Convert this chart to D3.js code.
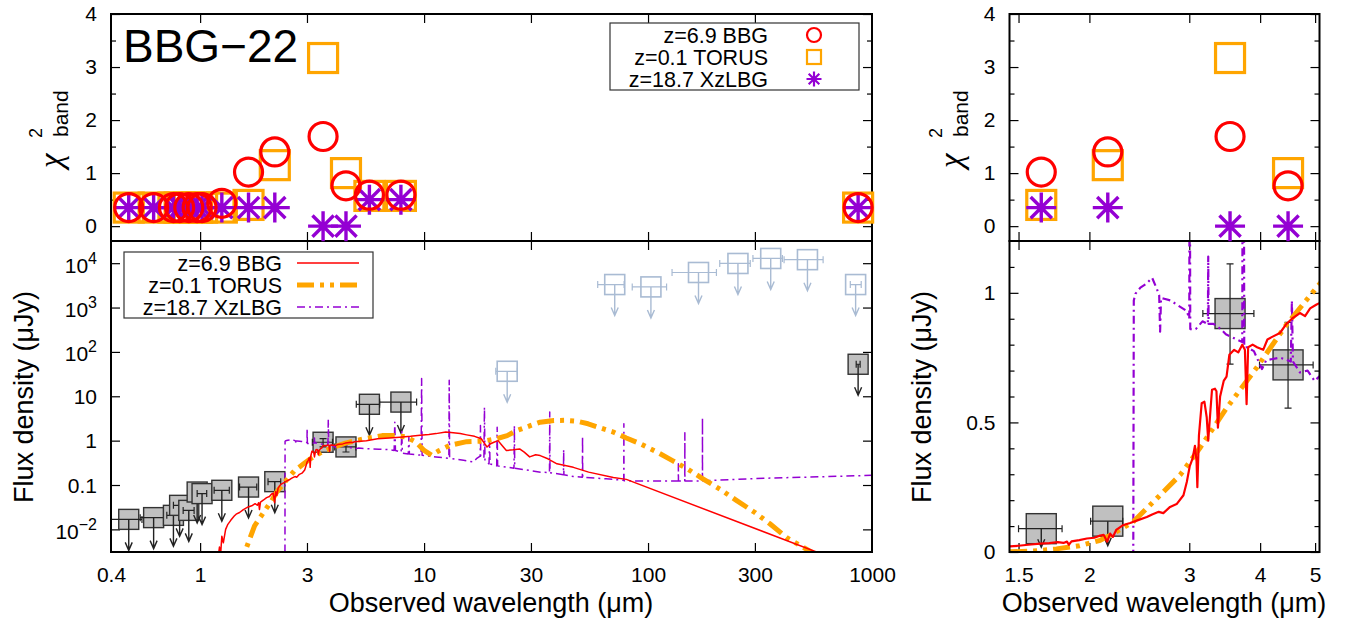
<!DOCTYPE html>
<html><head><meta charset="utf-8">
<script src="https://cdn.jsdelivr.net/npm/d3@7"></script>
<style>body{margin:0;background:#fff;overflow:hidden}</style>
</head><body>
<script>
// ---------------- DATA ----------------
const chiLam    = [0.48,0.62,0.76,0.81,0.89,0.97,1.02,1.25,1.645,2.155,3.54,4.48,5.7,7.88,867];
const chiBBG    = [0.35,0.35,0.35,0.35,0.35,0.35,0.35,0.43,1.02,1.40,1.69,0.76,0.585,0.585,0.35];
const chiTORUS  = [0.35,0.35,0.35,0.35,0.35,0.35,0.35,0.35,0.40,1.15,3.17,1.00,0.57,0.57,0.35];
const chiXzLBG  = [0.35,0.35,0.35,0.35,0.35,0.35,0.35,0.35,0.35,0.35,0.0,0.0,0.50,0.50,0.35];

const photLam   = [0.48,0.62,0.76,0.81,0.89,0.97,1.02,1.25,1.645,2.155,3.54,4.48,5.7,7.88,23.5,71,103,168,252,353,515,845,867];
const photLamLo = [0.40,0.54,0.71,0.76,0.84,0.925,0.97,1.155,1.50,2.01,3.17,3.99,4.98,6.33,20.9,59.6,85,128,209,294,405,800,850];
const photLamHi = [0.55,0.70,0.81,0.86,0.94,1.02,1.07,1.35,1.79,2.29,3.90,4.96,6.33,9.26,26.1,78.2,121,202,286,398,605,895,885];
const photFlux  = [0.0168,0.0184,0.0207,0.0348,0.0268,0.0695,0.064,0.076,0.090,0.119,0.92,0.722,6.6,7.4,36.6,3300,2920,6170,9850,12770,12000,3300,52.7];
const photErrLo = [0,0,0,0,0,0,0,0,0,0,0.725,0.555,0,0,0,0,0,0,0,0,0,0,0];
const photErrHi = [0,0,0,0,0,0,0,0,0,0,1.112,0.886,0,0,0,0,0,0,0,0,0,0,0];
const photUpper = [1,1,1,1,1,1,1,1,1,1,0,0,1,1,1,1,1,1,1,1,1,1,1];
const photFaded = [0,0,0,0,0,0,0,0,0,0,0,0,0,0,1,1,1,1,1,1,1,1,0];

const bbgLam  = [1.19,1.22,1.235,1.25,1.27,1.30,1.33,1.37,1.42,1.448,1.50,1.56,1.638,1.70,1.76,1.80,1.826,1.84,1.86,1.92,1.98,2.04,2.08,2.12,2.15,2.176,2.20,2.23,2.29,2.36,2.43,2.525,2.58,2.65,2.70,2.775,2.85,2.93,2.97,3.005,3.04,3.07,3.09,3.10,3.12,3.155,3.19,3.22,3.24,3.27,3.29,3.33,3.35,3.37,3.40,3.45,3.49,3.53,3.60,3.66,3.72,3.76,3.786,3.81,3.88,3.95,4.05,4.12,4.20,4.335,4.45,4.55,4.70,4.80,4.90,5.03,5.2,5.53,6.2,7.0,7.76,8.7,9.6,10.5,11.3,12.5,13.5,14.5,15.5,16.8,18.0,19.1,19.8,20.5,21.4,22.2,23.3,25.0,26.7,28.0,29.6,31.5,33,35.7,39.2,46.4,54.3,70,80,565,800];
const bbgFlux = [0.0015,0.004,0.0028,0.007,0.005,0.010,0.013,0.016,0.020,0.022,0.024,0.028,0.032,0.034,0.038,0.035,0.040,0.028,0.041,0.046,0.052,0.055,0.062,0.066,0.040,0.071,0.058,0.085,0.103,0.112,0.122,0.135,0.145,0.155,0.150,0.174,0.185,0.219,0.27,0.33,0.36,0.41,0.35,0.25,0.45,0.574,0.58,0.52,0.43,0.55,0.626,0.63,0.62,0.48,0.60,0.66,0.677,0.761,0.78,0.77,0.80,0.78,0.57,0.79,0.80,0.79,0.78,0.82,0.83,0.845,0.88,0.90,0.922,0.91,0.94,0.955,0.97,1.0,1.1,1.15,1.2,1.25,1.33,1.38,1.44,1.56,1.5,1.45,1.35,1.25,1.1,0.72,0.85,0.92,1.0,0.8,0.6,0.62,0.65,0.55,0.43,0.48,0.46,0.39,0.3,0.25,0.195,0.147,0.134,0.0031,0.0016];

const torusLam  = [1.45,1.58,1.75,1.92,2.09,2.20,2.39,2.63,2.89,3.13,3.49,3.94,4.45,5.03,5.5,6.5,7.5,8.35,9.2,10.0,10.8,11.7,13.0,15.5,18.3,21,23.5,26,30,33,38,43,48,54,62,70,80,92,110,128,150,175,210,248,300,350,418,535,600];
const torusFlux = [0.0008,0.003,0.012,0.024,0.045,0.07,0.117,0.207,0.297,0.40,0.555,0.71,0.877,1.02,1.12,1.3,1.3,1.2,0.93,0.6,0.47,0.6,0.78,0.95,0.97,1.1,1.3,1.7,2.2,2.6,2.85,2.87,2.75,2.4,1.9,1.56,1.15,0.855,0.55,0.36,0.23,0.14,0.08,0.045,0.024,0.0134,0.0064,0.0031,0.002];

const xzLam  = [1.40,2.39,2.395,2.41,2.46,2.52,2.58,2.63,2.655,2.665,2.675,2.71,2.785,2.84,2.97,3.0,3.005,3.012,3.08,3.165,3.235,3.24,3.245,3.31,3.41,3.48,3.72,3.735,3.75,3.79,3.90,4.03,4.10,4.34,4.53,4.55,4.57,4.70,4.85,4.99,5.10,5.50,6.30,6.90,7.35,7.40,7.45,7.90,7.95,8.00,8.50,8.55,8.60,9.70,9.75,9.80,11.3,12.9,12.95,13.0,15.0,16.6,17.2,17.8,17.85,17.9,18.5,18.6,18.7,19.5,19.6,19.7,21.1,21.2,21.3,25.2,25.3,25.4,33.1,36.3,36.4,36.5,41.9,42.0,42.1,46.4,50.9,51.0,51.1,65,77.9,78.0,78.1,92,136.5,136.6,136.7,145.9,146.0,146.1,174.9,175.0,175.1,300,1000];
const xzFlux = [0,0,0.97,0.996,1.02,1.035,1.058,1.015,0.99,0.85,0.98,0.977,0.97,0.957,0.93,0.90,1.9,0.86,0.86,0.89,0.88,1.14,0.88,0.88,0.86,0.84,0.81,3.0,0.79,0.79,0.775,0.706,0.74,0.75,0.735,0.97,0.735,0.693,0.70,0.66,0.68,0.66,0.64,0.63,0.60,2.6,0.60,0.55,1.6,0.52,0.50,1.2,0.50,0.47,25,0.47,0.43,0.40,23,0.40,0.36,0.33,0.40,0.45,2.2,0.45,0.40,5.7,0.35,0.30,1.0,0.30,0.27,2.0,0.27,0.24,2.2,0.24,0.195,0.19,4.4,0.19,0.17,0.63,0.17,0.155,0.15,1.25,0.15,0.138,0.128,2.4,0.125,0.123,0.123,0.3,0.123,0.123,1.5,0.123,0.124,3.3,0.125,0.14,0.165];

const seriesNames = ["z=6.9 BBG","z=0.1 TORUS","z=18.7 XzLBG"];
const seriesColors = ["#ff0000","#ffa500","#9400d3"];

const xTicksLeft   = [0.4,1,3,10,30,100,300,1000];
const xTickLabelsL = ["0.4","1","3","10","30","100","300","1000"];
const xTicksRight  = [1.5,2,3,4,5];
const xTickLabelsR = ["1.5","2","3","4","5"];
const chiTicks     = [0,1,2,3,4];
const chiMinor     = [0.5,1.5,2.5,3.5];
const fluxTicks    = [0.01,0.1,1,10,100,1000,10000];
const fluxTickBase = ["10","0.1","1","10","10","10","10"];
const fluxTickExp  = ["\u22122","","","","2","3","4"];
const linTicks     = [0,0.5,1];
const linTickLabels= ["0","0.5","1"];
const linMinor     = [0.1,0.2,0.3,0.4,0.6,0.7,0.8,0.9,1.1];

// ---------------- LAYOUT ----------------
const W=1353,H=627;
const FONT='"Liberation Sans", Arial, Helvetica, sans-serif';
const Lx0=111,Lx1=872,Rx0=1009.5,Rx1=1319.5,Ytop=14,Ymid=241,Ybot=552;

const svg=d3.select("body").append("svg").attr("width",W).attr("height",H)
  .style("font-family",FONT);

const xL=d3.scaleLog().domain([0.4,1000]).range([Lx0,Lx1]);
const xR=d3.scaleLog().domain([1.446,5.09]).range([Rx0,Rx1]);
const yChi=d3.scaleLinear().domain([-0.28,4]).range([Ymid,Ytop]);
const yFlux=d3.scaleLog().domain([Math.pow(10,-2.51),Math.pow(10,4.5)]).range([Ybot,Ymid]);
const yLin=d3.scaleLinear().domain([0,1.2]).range([Ybot,Ymid]);

const defs=svg.append("defs");
defs.append("clipPath").attr("id","clipL").append("rect")
  .attr("x",Lx0).attr("y",Ymid).attr("width",Lx1-Lx0).attr("height",Ybot-Ymid);
defs.append("clipPath").attr("id","clipR").append("rect")
  .attr("x",Rx0).attr("y",Ymid).attr("width",Rx1-Rx0).attr("height",Ybot-Ymid);

// ---------- axes helpers ----------
function tickAxis(gen, tx, ty){
  const g=svg.append("g").attr("transform",`translate(${tx},${ty})`).call(gen);
  g.select(".domain").remove();
  g.selectAll("line").attr("stroke","#000").attr("stroke-width",1.2);
  g.selectAll("text").attr("font-family",FONT).attr("font-size",21).attr("fill","#000");
  g.attr("font-family",null).attr("font-size",null);
  return g;
}
function panelTicks(xs, xt, y0, y1){
  tickAxis(d3.axisTop(xs).tickValues(xt).tickSize(-9).tickFormat(""),0,y0);
  tickAxis(d3.axisBottom(xs).tickValues(xt).tickSize(-9).tickFormat(""),0,y1);
}

// Left top (chi2)
panelTicks(xL,xTicksLeft.slice(1,-1),Ytop,Ymid);
tickAxis(d3.axisLeft(yChi).tickValues(chiTicks).tickSize(-9).tickPadding(14).tickFormat(d3.format("d")),Lx0,0);
tickAxis(d3.axisLeft(yChi).tickValues(chiMinor).tickSize(-5).tickFormat(""),Lx0,0);
tickAxis(d3.axisRight(yChi).tickValues(chiTicks).tickSize(-9).tickFormat(""),Lx1,0);
tickAxis(d3.axisRight(yChi).tickValues(chiMinor).tickSize(-5).tickFormat(""),Lx1,0);
// Left bottom (flux log)
panelTicks(xL,xTicksLeft.slice(1,-1),Ymid,Ybot);
tickAxis(d3.axisBottom(xL).tickValues(xTicksLeft).tickSize(0).tickPadding(15)
  .tickFormat((d,i)=>xTickLabelsL[i]),0,Ybot);
tickAxis(d3.axisLeft(yFlux).tickValues(fluxTicks).tickSize(-9).tickFormat(""),Lx0,0);
tickAxis(d3.axisRight(yFlux).tickValues(fluxTicks).tickSize(-9).tickFormat(""),Lx1,0);
const fl=svg.append("g");
fluxTicks.forEach((v,i)=>{
  const hasExp=fluxTickExp[i]!=="";
  const t=fl.append("text").attr("x",Lx0-14).attr("y",yFlux(v)+(hasExp?9.5:7.5))
    .attr("text-anchor","end").attr("font-size",21).text(fluxTickBase[i]);
  if(hasExp) t.append("tspan").attr("dy",-9).attr("font-size",16).text(fluxTickExp[i]);
});
// Right top
panelTicks(xR,xTicksRight,Ytop,Ymid);
tickAxis(d3.axisLeft(yChi).tickValues(chiTicks).tickSize(-9).tickPadding(14).tickFormat(d3.format("d")),Rx0,0);
tickAxis(d3.axisLeft(yChi).tickValues(chiMinor).tickSize(-5).tickFormat(""),Rx0,0);
tickAxis(d3.axisRight(yChi).tickValues(chiTicks).tickSize(-9).tickFormat(""),Rx1,0);
tickAxis(d3.axisRight(yChi).tickValues(chiMinor).tickSize(-5).tickFormat(""),Rx1,0);
// Right bottom
panelTicks(xR,xTicksRight,Ymid,Ybot);
tickAxis(d3.axisBottom(xR).tickValues(xTicksRight).tickSize(0).tickPadding(15)
  .tickFormat((d,i)=>xTickLabelsR[i]),0,Ybot);
tickAxis(d3.axisLeft(yLin).tickValues(linTicks).tickSize(-9).tickPadding(14).tickFormat((d,i)=>linTickLabels[i]),Rx0,0);
tickAxis(d3.axisLeft(yLin).tickValues(linMinor).tickSize(-5).tickFormat(""),Rx0,0);
tickAxis(d3.axisRight(yLin).tickValues(linTicks).tickSize(-9).tickFormat(""),Rx1,0);
tickAxis(d3.axisRight(yLin).tickValues(linMinor).tickSize(-5).tickFormat(""),Rx1,0);

// ---------- photometry ----------
function arrowPath(x,y1,y2,hw,hl){
  return `M${x},${y1}V${y2}M${x-hw},${y2-hl}L${x},${y2}L${x+hw},${y2-hl}`;
}
function drawPhot(xs, ys, half, cap, inDomain){
  const g=svg.append("g");
  photLam.forEach((l,i)=>{
    if(!inDomain(l)) return;
    const faded=photFaded[i]===1;
    const col=faded?"#a9bbd3":"#222";
    const cx=xs(l), cy=ys(photFlux[i]);
    g.append("rect").attr("x",cx-half).attr("y",cy-half).attr("width",2*half).attr("height",2*half)
      .attr("fill",faded?"none":"#c0c0c0").attr("stroke",faded?"#a9bbd3":"#333").attr("stroke-width",faded?1.6:1.4);
    const xa=Math.max(xs(photLamLo[i]),xs.range()[0]), xb=xs(photLamHi[i]);
    g.append("path").attr("d",`M${xa},${cy}H${xb}M${xa},${cy-cap}V${cy+cap}M${xb},${cy-cap}V${cy+cap}`)
      .attr("stroke",col).attr("stroke-width",1.2).attr("fill","none");
    if(photUpper[i]===1){
      g.append("path").attr("d",arrowPath(cx,cy,ys(photFlux[i]*0.2),3.5,8))
        .attr("stroke",col).attr("stroke-width",1.4).attr("fill","none");
    } else {
      const ya=ys(photErrLo[i]), yb=ys(photErrHi[i]);
      g.append("path").attr("d",`M${cx},${ya}V${yb}M${cx-cap},${ya}H${cx+cap}M${cx-cap},${yb}H${cx+cap}`)
        .attr("stroke",col).attr("stroke-width",1.2).attr("fill","none");
    }
  });
}
drawPhot(xL,yFlux,10,3.5,l=>true);
drawPhot(xR,yLin,15,3.5,l=>l>=1.446&&l<=5.09);

// ---------- model lines ----------
const dashes=[null,"17,6,4,6,4,6","8,4,2,4"];
const widths=[1.5,5,1.5];
const lamArr=[bbgLam,torusLam,xzLam], fluxArr=[bbgFlux,torusFlux,xzFlux];
function drawModels(xs, ys, clip, floor, wscale){
  const g=svg.append("g").attr("clip-path",`url(#${clip})`);
  [2,1,0].forEach(k=>{
    const data=lamArr[k].map((l,i)=>[l,fluxArr[k][i]]);
    const line=d3.line().x(d=>xs(d[0])).y(d=>ys(floor?Math.max(d[1],floor):d[1]));
    g.append("path").attr("d",line(data)).attr("fill","none")
      .attr("stroke",seriesColors[k]).attr("stroke-width",widths[k]*(k===1?1:wscale))
      .attr("stroke-dasharray",dashes[k]).attr("stroke-linejoin","round");
  });
}
drawModels(xL,yFlux,"clipL",1e-5,1);
drawModels(xR,yLin,"clipR",null,1.45);

// ---------- borders ----------
[[Lx0,Ytop,Lx1,Ymid],[Lx0,Ymid,Lx1,Ybot],[Rx0,Ytop,Rx1,Ymid],[Rx0,Ymid,Rx1,Ybot]].forEach(b=>{
  svg.append("rect").attr("x",b[0]).attr("y",b[1]).attr("width",b[2]-b[0]).attr("height",b[3]-b[1])
    .attr("fill","none").attr("stroke","#000").attr("stroke-width",2);
});

// ---------- chi2 symbols ----------
const starPath=s=>{const d=s*0.7071;return `M${-s},0H${s}M0,${-s}V${s}M${-d},${-d}L${d},${d}M${-d},${d}L${d},${-d}`;};
function drawChi(xs, inDomain){
  const g=svg.append("g");
  chiLam.forEach((l,i)=>{ if(!inDomain(l))return;
    g.append("rect").attr("x",xs(l)-14.5).attr("y",yChi(chiTORUS[i])-14.5).attr("width",29).attr("height",29)
      .attr("fill","none").attr("stroke",seriesColors[1]).attr("stroke-width",3.2);});
  chiLam.forEach((l,i)=>{ if(!inDomain(l))return;
    g.append("path").attr("transform",`translate(${xs(l)},${yChi(chiXzLBG[i])})`).attr("d",starPath(15))
      .attr("stroke",seriesColors[2]).attr("stroke-width",3.4).attr("fill","none");});
  chiLam.forEach((l,i)=>{ if(!inDomain(l))return;
    g.append("circle").attr("cx",xs(l)).attr("cy",yChi(chiBBG[i])).attr("r",14)
      .attr("fill","none").attr("stroke",seriesColors[0]).attr("stroke-width",3.2);});
}
drawChi(xL,l=>true);
drawChi(xR,l=>l>=1.446&&l<=5.09);

// ---------- legends ----------
const lg1=svg.append("g");
lg1.append("rect").attr("x",610).attr("y",23).attr("width",249).attr("height",67)
  .attr("fill","#fff").attr("stroke","#333").attr("stroke-width",1.2);
seriesNames.forEach((n,i)=>{
  const cy=35+22*i;
  lg1.append("text").attr("x",768).attr("y",cy+7.5).attr("text-anchor","end").attr("font-size",21.5).text(n);
});
lg1.append("circle").attr("cx",814).attr("cy",35).attr("r",7).attr("fill","none").attr("stroke",seriesColors[0]).attr("stroke-width",2.2);
lg1.append("rect").attr("x",807).attr("y",50).attr("width",14).attr("height",14).attr("fill","none").attr("stroke",seriesColors[1]).attr("stroke-width",2.2);
lg1.append("path").attr("transform","translate(814,79)").attr("d",starPath(7.5)).attr("stroke",seriesColors[2]).attr("stroke-width",2.2);

const lg2=svg.append("g");
lg2.append("rect").attr("x",124).attr("y",252).attr("width",249).attr("height",66)
  .attr("fill","#fff").attr("stroke","#333").attr("stroke-width",1.2);
seriesNames.forEach((n,i)=>{
  const cy=263+22*i;
  lg2.append("text").attr("x",282).attr("y",cy+7.5).attr("text-anchor","end").attr("font-size",21.5).text(n);
  lg2.append("line").attr("x1",297).attr("x2",359).attr("y1",cy).attr("y2",cy)
    .attr("stroke",seriesColors[i]).attr("stroke-width",widths[i]).attr("stroke-dasharray",dashes[i]);
});

// ---------- titles ----------
svg.append("text").attr("x",123).attr("y",62).attr("font-size",46).text("BBG\u221222");
svg.append("text").attr("x",491).attr("y",612).attr("text-anchor","middle").attr("font-size",27).text("Observed wavelength (\u03bcm)");
svg.append("text").attr("x",1164).attr("y",612).attr("text-anchor","middle").attr("font-size",27).text("Observed wavelength (\u03bcm)");
[[33,397],[931,397]].forEach(p=>{
  svg.append("text").attr("transform",`translate(${p[0]},${p[1]}) rotate(-90)`).attr("text-anchor","middle")
    .attr("font-size",27).text("Flux density (\u03bcJy)");
});
[62,962].forEach(X=>{
  const g=svg.append("g").attr("transform",`translate(${X},128) rotate(-90)`);
  g.append("text").attr("x",-40).attr("y",0).attr("font-size",33)
    .attr("font-family",'"Liberation Serif","DejaVu Serif",serif').attr("font-style","italic").text("\u03c7");
  g.append("text").attr("x",-10).attr("y",-20).attr("font-size",18).text("2");
  g.append("text").attr("x",-9).attr("y",6).attr("font-size",21).text("band");
});
</script>
</body></html>
